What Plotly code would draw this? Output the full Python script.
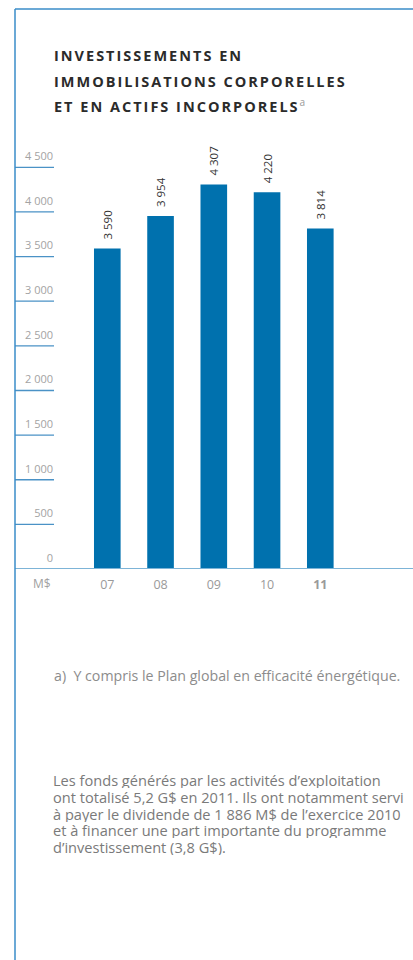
import plotly.graph_objects as go

# Data
years = ["07", "08", "09", "10", "11"]
year_labels = ["07", "08", "09", "10", "<b>11</b>"]
investments = [3590, 3954, 4307, 4220, 3814]  # M$
y_ticks = [0, 500, 1000, 1500, 2000, 2500, 3000, 3500, 4000, 4500]

title_lines = [
    "INVESTISSEMENTS EN",
    "IMMOBILISATIONS CORPORELLES",
    "ET EN ACTIFS INCORPORELS<sup><span style='color:#9a9a9a;font-weight:normal'>a</span></sup>",
]
footnote = "a)  Y compris le Plan global en efficacité énergétique."
paragraph = [
    "Les fonds générés par les activités d’exploitation",
    "ont totalisé 5,2 G$ en 2011. Ils ont notamment servi",
    "à payer le dividende de 1 886 M$ de l’exercice 2010",
    "et à financer une part importante du programme",
    "d’investissement (3,8 G$).",
]

# Page geometry (pixels)
W, H = 413, 960
PLOT_L, PLOT_R, PLOT_T = 54, 413, 140
ZERO_Y = 568.7
PX_PER_UNIT = 0.0892
BAR0_X, BAR_STEP = 107.3, 53.25
FRAME_X, FRAME_Y = 15, 9

y_top = (ZERO_Y - PLOT_T) / PX_PER_UNIT
x_lo = -(BAR0_X - PLOT_L) / BAR_STEP
x_hi = (PLOT_R - BAR0_X) / BAR_STEP
plot_w = PLOT_R - PLOT_L
plot_h = ZERO_Y - PLOT_T


def px(x):
    return (x - PLOT_L) / plot_w


def py(y):
    return (ZERO_Y - y) / plot_h


BLUE = "#0071ae"
FRAME = "#3a8cc8"
FONT = "Open Sans"

fig = go.Figure(
    go.Bar(
        x=years,
        y=investments,
        marker=dict(color=BLUE, line=dict(width=0)),
        texttemplate="\u00a0\u00a0%{y:,}",
        textposition="outside",
        textangle=-90,
        constraintext="none",
        textfont=dict(family=FONT, size=11.5, color="#333333"),
        cliponaxis=False,
        hoverinfo="skip",
    )
)

shapes = []
# short tick rules beside the value axis
for t in y_ticks[1:]:
    shapes.append(dict(type="line", xref="paper", yref="y", x0=px(FRAME_X), x1=px(PLOT_L),
                       y0=t, y1=t, line=dict(color="#4a92c6", width=1.3), layer="below"))
# baseline
shapes.append(dict(type="line", xref="paper", yref="y", x0=px(FRAME_X), x1=1.0,
                   y0=0, y1=0, line=dict(color="#7db4d7", width=2), layer="above"))
# frame: left and top rules
shapes.append(dict(type="line", xref="paper", yref="paper", x0=px(FRAME_X), x1=px(FRAME_X),
                   y0=py(FRAME_Y), y1=py(H + 5), line=dict(color=FRAME, width=1.5)))
shapes.append(dict(type="line", xref="paper", yref="paper", x0=px(FRAME_X), x1=px(W + 5),
                   y0=py(FRAME_Y), y1=py(FRAME_Y), line=dict(color=FRAME, width=1.5)))

annotations = []
for line, yc in zip(title_lines, [55.7, 81.3, 106]):
    annotations.append(dict(text=line, xref="paper", yref="paper", x=px(52), y=py(yc),
                            xanchor="left", yanchor="middle", align="left", showarrow=False,
                            font=dict(family=FONT, size=14.5, color="#2b2b2b", weight="bold")))
annotations.append(dict(text="M$", xref="paper", yref="paper", x=px(53), y=py(583),
                        xanchor="right", yanchor="middle", showarrow=False,
                        font=dict(family=FONT, size=12, color="#a0a0a0")))
annotations.append(dict(text=footnote, xref="paper", yref="paper", x=px(52), y=py(675),
                        xanchor="left", yanchor="middle", align="left", showarrow=False,
                        font=dict(family=FONT, size=14.2, color="#8c8c8c")))
for line, yc in zip(paragraph, [780, 796.6, 813.2, 829.8, 846.4]):
    annotations.append(dict(text=line, xref="paper", yref="paper", x=px(52), y=py(yc),
                            xanchor="left", yanchor="middle", align="left", showarrow=False,
                            height=16, borderpad=0,
                            font=dict(family=FONT, size=14.6, color="#7a7a7a")))

fig.update_layout(
    width=W, height=H,
    margin=dict(l=PLOT_L, r=W - PLOT_R, t=PLOT_T, b=H - ZERO_Y, pad=0),
    paper_bgcolor="white", plot_bgcolor="white",
    separators=", ",
    bargap=0.5,
    showlegend=False,
    xaxis=dict(
        type="category", range=[x_lo, x_hi], tickvals=years, ticktext=year_labels,
        showgrid=False, showline=False, zeroline=False, ticks="",
        tickfont=dict(family=FONT, size=12.5, color="#9a9a9a"), ticklabelstandoff=6,
        fixedrange=True,
    ),
    yaxis=dict(
        range=[0, y_top], tickvals=y_ticks, tickformat=",",
        showgrid=False, showline=False, zeroline=False, ticks="",
        tickfont=dict(family=FONT, size=11, color="#a3a3a3"),
        ticklabelshift=-11, ticklabelstandoff=0,
        fixedrange=True,
    ),
    shapes=shapes,
    annotations=annotations,
)

# Tracked capitals for the heading lines
tracking_js = """
var gd = document.getElementById('{plot_id}');
function trackHeading() {
  gd.querySelectorAll('.annotation-text').forEach(function (t) {
    if (/^(INVESTISSEMENTS|IMMOBILISATIONS|ET EN ACTIFS)/.test(t.textContent)) {
      t.style.letterSpacing = '2px';
    }
  });
}
trackHeading();
gd.on('plotly_afterplot', trackHeading);
"""

fig.write_html("out.html", config=dict(displayModeBar=False), post_script=tracking_js)
